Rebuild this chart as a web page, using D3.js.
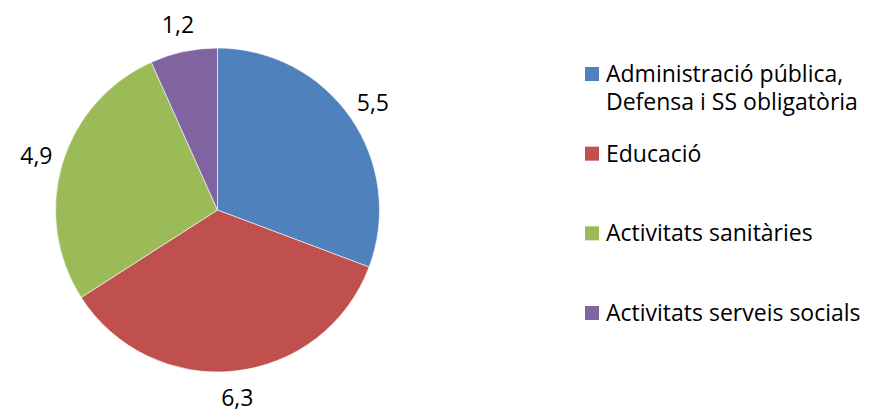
<!DOCTYPE html>
<html>
<head>
<meta charset="utf-8">
<script src="https://cdn.jsdelivr.net/npm/d3@7"></script>
<style>
  html, body { margin: 0; padding: 0; background: #ffffff; }
  svg { display: block; font-family: "Open Sans", "Lato", sans-serif; }
</style>
</head>
<body>
<svg id="chart" width="869" height="412"></svg>
<script>
const categories = [
  ["Administració pública,", "Defensa i SS obligatòria"],
  ["Educació"],
  ["Activitats sanitàries"],
  ["Activitats serveis socials"]
];
const values = [5.5, 6.3, 4.9, 1.2];
const valueLabels = ["5,5", "6,3", "4,9", "1,2"];
const colors = ["#4F81BD", "#C0504D", "#9BBB59", "#8064A2"];

const svg = d3.select("#chart");
const cx = 217.5, cy = 210, r = 162;
const fontSize = 23;
const capHalf = fontSize * 0.714 / 2;

const data = values.map((v, i) => ({ v, i }));
const pie = d3.pie().sort(null).value(d => d.v);
const arcs = pie(data);
const arc = d3.arc().innerRadius(0).outerRadius(r);
const labelArc = d3.arc().innerRadius(189).outerRadius(189);

const g = svg.append("g").attr("transform", `translate(${cx},${cy})`);
g.selectAll("path").data(arcs).join("path")
  .attr("d", arc)
  .attr("fill", d => colors[d.data.i])
  .attr("stroke", "#ffffff")
  .attr("stroke-width", 0.6);

g.selectAll("text.val").data(arcs).join("text")
  .attr("class", "val")
  .attr("x", d => labelArc.centroid(d)[0])
  .attr("y", d => labelArc.centroid(d)[1] + capHalf)
  .attr("text-anchor", "middle")
  .attr("font-size", fontSize)
  .attr("fill", "#000")
  .text(d => valueLabels[d.data.i]);

// Legend
const legendY = d3.scalePoint().domain(d3.range(categories.length)).range([82, 321]);
const legend = svg.append("g");
const items = legend.selectAll("g").data(categories).join("g")
  .attr("transform", (d, i) => `translate(585,${legendY(i)})`);
items.append("rect")
  .attr("x", 0).attr("y", -15).attr("width", 14).attr("height", 14)
  .attr("fill", (d, i) => colors[i]);
items.append("text")
  .attr("x", 21)
  .attr("font-size", fontSize)
  .attr("fill", "#000")
  .selectAll("tspan").data(d => d).join("tspan")
  .attr("x", 21)
  .attr("dy", (d, j) => j === 0 ? 0 : 28)
  .text(d => d);
</script>
</body>
</html>
